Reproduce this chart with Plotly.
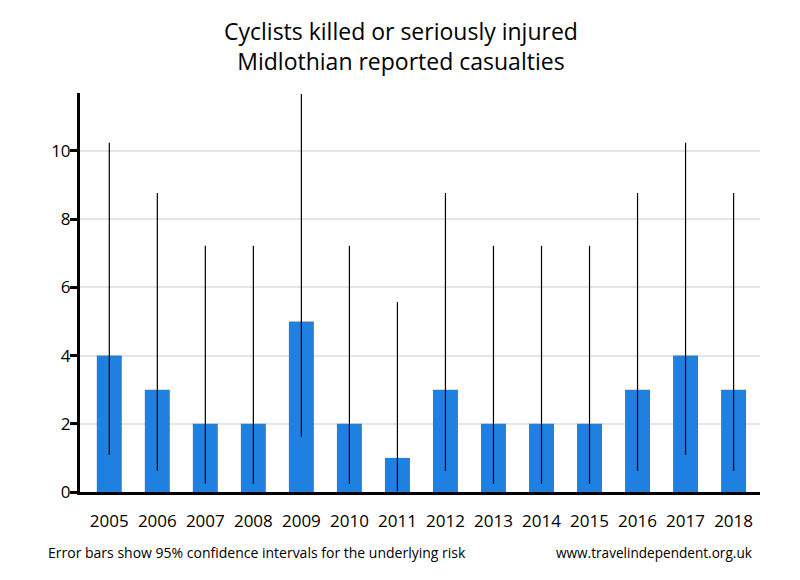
import plotly.graph_objects as go

years = ["2005", "2006", "2007", "2008", "2009", "2010", "2011",
         "2012", "2013", "2014", "2015", "2016", "2017", "2018"]
casualties = [4, 3, 2, 2, 5, 2, 1, 3, 2, 2, 2, 3, 4, 3]
ci_lower = [1.09, 0.62, 0.24, 0.24, 1.62, 0.24, 0.03, 0.62, 0.24, 0.24, 0.24, 0.62, 1.09, 0.62]
ci_upper = [10.24, 8.77, 7.22, 7.22, 11.67, 7.22, 5.57, 8.77, 7.22, 7.22, 7.22, 8.77, 10.24, 8.77]

err_plus = [u - v for u, v in zip(ci_upper, casualties)]
err_minus = [v - l for v, l in zip(casualties, ci_lower)]

FONT = "Open Sans, Noto Sans, sans-serif"

fig = go.Figure()
fig.add_trace(go.Bar(
    x=years, y=casualties, width=0.52,
    marker=dict(color="#1f80e0", line=dict(width=0)),
    error_y=dict(type="data", symmetric=False, array=err_plus, arrayminus=err_minus,
                 width=0, thickness=1.2, color="black"),
))

fig.update_layout(
    width=800, height=580,
    paper_bgcolor="white", plot_bgcolor="white",
    margin=dict(l=72, r=48, t=85, b=95.5),
    showlegend=False,
    font=dict(family=FONT, color="black"),
    xaxis=dict(type="category", range=[-0.61, 13.55], showline=True, linecolor="black",
               linewidth=3, ticks="", showgrid=False, tickfont=dict(size=17),
               ticklabelstandoff=12),
    yaxis=dict(range=[0, 11.7], tickvals=[0, 2, 4, 6, 8, 10], showline=True,
               linecolor="black", linewidth=3, ticks="outside", ticklen=7, tickwidth=3,
               tickcolor="black", showgrid=True, gridcolor="#e6e6e6", gridwidth=2,
               zeroline=False, tickfont=dict(size=17), ticklabelstandoff=-4),
    annotations=[
        dict(text="Cyclists killed or seriously injured<br>Midlothian reported casualties",
             xref="paper", yref="paper", x=0.472, y=1.119, xanchor="center", yanchor="middle",
             showarrow=False, font=dict(size=23, family=FONT)),
        dict(text="Error bars show 95% confidence intervals for the underlying risk",
             xref="paper", yref="paper", x=-0.05, y=-0.1514, xanchor="left", yanchor="middle",
             showarrow=False, font=dict(size=14, family=FONT)),
        dict(text="www.travelindependent.org.uk",
             xref="paper", yref="paper", x=0.9925, y=-0.1514, xanchor="right", yanchor="middle",
             showarrow=False, font=dict(size=13.6, family=FONT)),
    ],
)

fig.write_html("out.html")
